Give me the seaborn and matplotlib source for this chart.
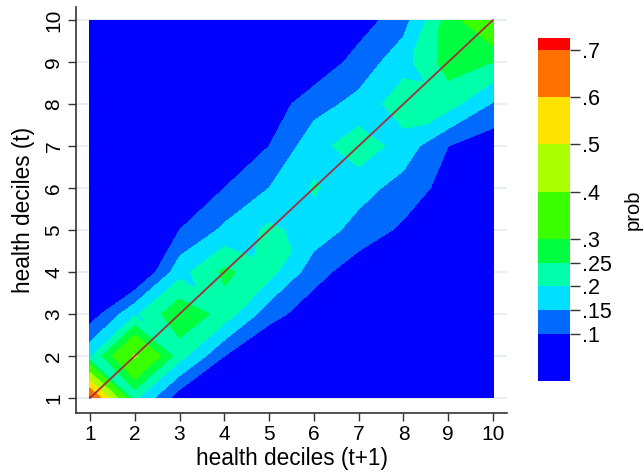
import numpy as np
import pandas as pd
import matplotlib
matplotlib.use("Agg")
import matplotlib.pyplot as plt
import matplotlib.tri as mtri
import seaborn as sns

# health deciles (t+1) on x, health deciles (t) on y
deciles_next = [1, 2, 3, 4, 5, 6, 7, 8, 9, 10]
deciles_now = [1, 2, 3, 4, 5, 6, 7, 8, 9, 10]

# transition probabilities, one row per decile at t (y), columns decile at t+1 (x)
prob_t1 = [0.72, 0.21, 0.07, 0.03, 0.02, 0.015, 0.01, 0.01, 0.01, 0.005]
prob_t2 = [0.19, 0.41, 0.22, 0.10, 0.04, 0.02, 0.01, 0.01, 0.01, 0.005]
prob_t3 = [0.07, 0.19, 0.29, 0.23, 0.12, 0.07, 0.03, 0.02, 0.01, 0.01]
prob_t4 = [0.02, 0.03, 0.18, 0.26, 0.22, 0.12, 0.07, 0.04, 0.02, 0.01]
prob_t5 = [0.01, 0.02, 0.10, 0.16, 0.21, 0.18, 0.13, 0.09, 0.05, 0.02]
prob_t6 = [0.01, 0.01, 0.05, 0.10, 0.15, 0.205, 0.17, 0.13, 0.08, 0.04]
prob_t7 = [0.01, 0.01, 0.02, 0.05, 0.10, 0.18, 0.23, 0.178, 0.10, 0.067]
prob_t8 = [0.01, 0.01, 0.02, 0.03, 0.07, 0.13, 0.165, 0.23, 0.22, 0.145]
prob_t9 = [0.01, 0.01, 0.01, 0.02, 0.03, 0.06, 0.12, 0.18, 0.273, 0.25]
prob_t10 = [0.005, 0.01, 0.01, 0.01, 0.02, 0.03, 0.074, 0.13, 0.27, 0.375]

levels = [0, 0.1, 0.15, 0.2, 0.25, 0.3, 0.4, 0.5, 0.6, 0.7, 0.725]
level_labels = [".1", ".15", ".2", ".25", ".3", ".4", ".5", ".6", ".7"]
fill_colors = ["#0000ff", "#006aff", "#00dfff", "#00ffaa", "#00ff40",
               "#39ff00", "#aaff00", "#ffe300", "#ff7100", "#ff0000"]

Z = np.array([prob_t1, prob_t2, prob_t3, prob_t4, prob_t5,
              prob_t6, prob_t7, prob_t8, prob_t9, prob_t10])

sns.set_theme(style="white")
plt.rcParams["font.family"] = ["Liberation Sans", "DejaVu Sans"]
plt.rcParams["text.color"] = "black"
plt.rcParams["axes.labelcolor"] = "black"
plt.rcParams["xtick.color"] = "black"
plt.rcParams["ytick.color"] = "black"

fig = plt.figure(figsize=(6.44, 4.76), dpi=100)
W, H = 644, 476
ax = fig.add_axes([76 / W, 1 - 413 / H, (507 - 76) / W, (413 - 7) / H])

# horizontal grid lines
for yv in deciles_now:
    ax.axhline(yv, color="#e4ecef", lw=1.2, zorder=0)

# triangulate the grid: cells on the diagonal split along the anti-diagonal,
# the other cells along the main diagonal
X, Y = np.meshgrid(deciles_next, deciles_now)
nx, ny = len(deciles_next), len(deciles_now)
tris = []
for j in range(ny - 1):
    for i in range(nx - 1):
        a = j * nx + i
        b = j * nx + i + 1
        c = (j + 1) * nx + i
        d = (j + 1) * nx + i + 1
        if i == j:
            tris.append([a, b, c])
            tris.append([b, d, c])
        else:
            tris.append([a, b, d])
            tris.append([a, d, c])
tri = mtri.Triangulation(X.ravel(), Y.ravel(), triangles=np.array(tris))
cs = ax.tricontourf(tri, Z.ravel(), levels=levels, colors=fill_colors,
                    zorder=1, antialiased=False)

diag = pd.DataFrame({"x": deciles_next, "y": deciles_now})
sns.lineplot(data=diag, x="x", y="y", ax=ax, color="#a3303a", lw=1.3, zorder=3)

ax.set_xlim(1 - 14 / 44.8, 10 + 14 / 44.8)
ax.set_ylim(1 - 15 / 42, 10 + 13 / 42)
ax.set_xticks(deciles_next)
ax.set_yticks(deciles_now)
ax.set_xticklabels([str(v) for v in deciles_next])
ax.set_yticklabels([str(v) for v in deciles_now])
for lab in ax.get_yticklabels():
    lab.set_rotation(90)
    lab.set_va("center")
ax.tick_params(axis="both", which="both", direction="out", length=6,
               width=1, color="#333333", labelsize=15, pad=3,
               bottom=True, left=True, labelcolor="black")
for side in ["top", "right"]:
    ax.spines[side].set_visible(False)
for side in ["left", "bottom"]:
    ax.spines[side].set_color("#333333")
    ax.spines[side].set_linewidth(1.2)
ax.set_xlabel("health deciles (t+1)", fontsize=16.3, labelpad=2, color="black")
ax.set_ylabel("health deciles (t)", fontsize=16.3, labelpad=7, color="black")
ax.set_facecolor("white")

cax = fig.add_axes([538 / W, 1 - 381 / H, 32 / W, (381 - 38) / H])
cb = fig.colorbar(cs, cax=cax, ticks=levels[1:-1], spacing="proportional")
cb.ax.set_yticklabels(level_labels)
cb.outline.set_visible(False)
cb.ax.tick_params(direction="out", length=7, width=1, color="#333333",
                  labelsize=15.5, pad=2, labelcolor="black")
cb.set_label("prob", fontsize=14.5, labelpad=8, color="black")

fig.savefig("out.png", dpi=100)
